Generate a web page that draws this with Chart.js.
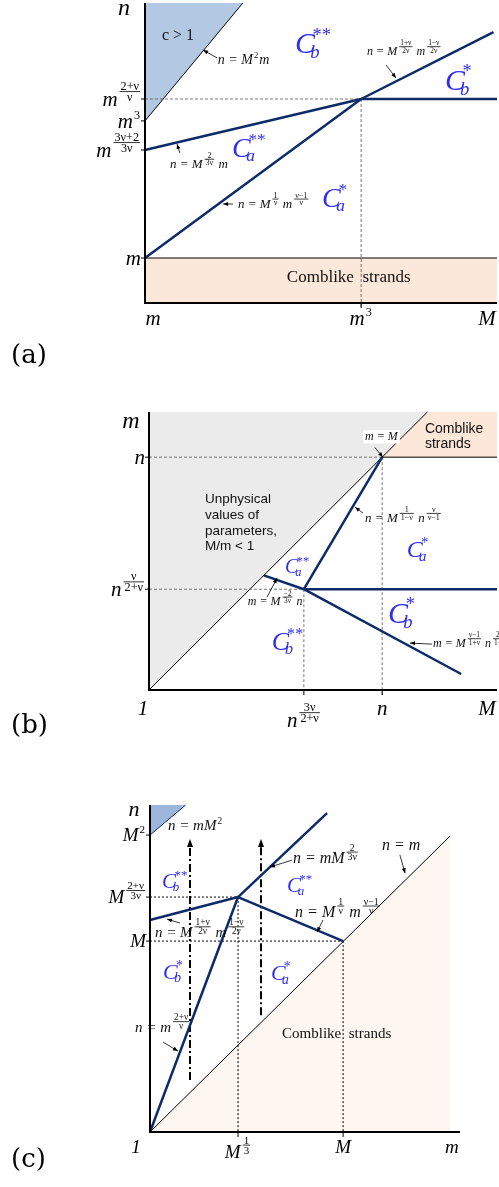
<!DOCTYPE html>
<html>
<head>
<meta charset="utf-8">
<script src="https://cdn.jsdelivr.net/npm/chart.js@4.4.1/dist/chart.umd.min.js"></script>
<style>
  body { margin: 0; background: #fff; width: 499px; height: 1187px; position: relative; overflow: hidden; }
  canvas { position: absolute; left: 0; }
</style>
</head>
<body>
<canvas id="panelA" width="499" height="370" style="top:0"></canvas>
<canvas id="panelB" width="499" height="380" style="top:370px"></canvas>
<canvas id="panelC" width="499" height="437" style="top:750px"></canvas>
<script>
// schematic units: every panel runs 0..100 on x, y in its own units

// ---- panel (a): n against M ----
const aXTicks = [0, 61.4, 100];
const aXTickLabels = ['m', 'm^{3}', 'M'];
const aYTicks = [15, 51, 60.7, 68];
const aYTickLabels = ['m', 'm^{3ν+2|3ν}', 'm^{3}', 'm^{2+ν|ν}'];
const aComblike = [[0, 15], [100, 15]];
const aCOver1 = [[0, 60.7], [27.8, 100]];        // n = M^2 m
const aLineAstar = [[0, 15], [61.4, 68]];
const aLineA2star = [[0, 51], [61.4, 68]];
const aLineBstar = [[61.4, 68], [100, 68]];
const aLineB2star = [[61.4, 68], [99, 90.3]];
const aGuideH = [[0, 68], [61.4, 68]];
const aGuideV = [[61.4, 68], [61.4, -1.7]];

// ---- panel (b): m against M ----
const bXTicks = [0, 44.5, 67, 100];
const bXTickLabels = ['1', 'n^{3ν|2+ν}', 'n', 'M'];
const bYTicks = [67, 29];
const bYTickLabels = ['n', 'n^{ν|2+ν}'];
const bUnphysical = [[0, 0], [80, 80]];           // m = M
const bComblike = [[67, 67], [80, 80], [100, 80]];
const bComblikeEdge = [[67, 67], [100, 67]];
const bLineAstar = [[67, 67], [44.5, 29]];
const bLineBstar = [[44.5, 29], [100, 29]];
const bLineA2star = [[44.5, 29], [33, 33]];
const bLineB2star = [[44.5, 29], [89.7, 4.6]];
const bGuideH1 = [[0, 67], [67, 67]];
const bGuideV1 = [[67, 67], [67, -1.5]];
const bGuideH2 = [[0, 29], [44.5, 29]];
const bGuideV2 = [[44.5, 29], [44.5, 0]];

// ---- panel (c): n against m ----
const cXTicks = [0, 28.4, 62.3, 97.4];
const cXTickLabels = ['1', 'M^{1|3}', 'M', 'm'];
const cYTicks = [95.8, 75.8, 61.6];
const cYTickLabels = ['M^{2}', 'M^{2+ν|3ν}', 'M'];
const cCOver1 = [[0, 95.8], [11.5, 105.5]];       // n = m M^2
const cDiagonal = [[0, 0], [96.8, 95.5]];         // n = m
const cLineB2star = [[0, 68.4], [28.4, 75.8]];
const cLineA2star = [[28.4, 75.8], [57.1, 102.9]];
const cLineAstar = [[28.4, 75.8], [62.3, 61.6]];
const cLineBstar = [[0, 0], [28.4, 75.8]];
const cGuideH1 = [[0, 75.8], [28.4, 75.8]];
const cGuideV1 = [[28.4, 75.8], [28.4, 0]];
const cGuideH2 = [[0, 61.6], [62.3, 61.6]];
const cGuideV2 = [[62.3, 61.6], [62.3, 0]];
const cPathLeft = [[12.9, 16.8], [12.9, 93.2]];
const cPathRight = [[35.8, 37.7], [35.8, 93.2]];

const NAVY = '#0c2b68';
const CBLUE = '#2e2ef2';
const SERIF = '"Liberation Serif", serif';

const pts = arr => arr.map(([x, y]) => ({ x, y }));

function line(arr, color, width, dash, order) {
  return {
    data: pts(arr), borderColor: color, borderWidth: width, borderDash: dash || [],
    pointRadius: 0, fill: false, clip: false, tension: 0, order: order || 1
  };
}
function area(arr, fillTo, bg, edge) {
  return {
    data: pts(arr), borderColor: edge || 'rgba(0,0,0,0)', borderWidth: edge ? 1 : 0,
    pointRadius: 0, fill: fillTo, backgroundColor: bg, clip: false, tension: 0, order: 3
  };
}

// small math text: ^{x} superscript, ^{a|b} fraction exponent
function mathRuns(str) {
  const out = [], re = /\^\{([^}]*)\}|([^^]+)/g;
  let m;
  while ((m = re.exec(str))) {
    if (m[1] !== undefined) out.push(m[1].includes('|') ? { frac: m[1].split('|') } : { sup: m[1] });
    else out.push({ text: m[2] });
  }
  return out;
}
function drawMath(ctx, str, x, y, size, align, ratio) {
  const runs = mathRuns(str);
  const small = size * (ratio || 0.58);
  const main = `italic ${size}px ${SERIF}`;
  const sm = `${small}px ${SERIF}`;
  const pass = (draw, x0) => {
    let cx = x0;
    for (const r of runs) {
      if (r.text !== undefined) {
        ctx.font = main;
        if (draw) ctx.fillText(r.text, cx, y);
        cx += ctx.measureText(r.text).width;
      } else if (r.sup !== undefined) {
        ctx.font = sm;
        if (draw) ctx.fillText(r.sup, cx + 1, y - size * 0.42);
        cx += ctx.measureText(r.sup).width + 2;
      } else {
        ctx.font = sm;
        const w0 = ctx.measureText(r.frac[0]).width, w1 = ctx.measureText(r.frac[1]).width;
        const w = Math.max(w0, w1) + 2;
        const mid = y - size * 0.68;
        if (draw) {
          const c = cx + 2 + w / 2;
          ctx.fillText(r.frac[0], c - w0 / 2, mid - 1.5);
          ctx.fillText(r.frac[1], c - w1 / 2, mid + small * 0.78);
          ctx.fillRect(cx + 2, mid - 0.4, w, 0.8);
        }
        cx += w + 3;
      }
    }
    return cx - x0;
  };
  ctx.textAlign = 'left';
  const w = pass(false, x);
  const x0 = align === 'right' ? x - w : align === 'center' ? x - w / 2 : x;
  pass(true, x0);
}
function drawC(ctx, x, y, size, sub, sup) {
  ctx.fillStyle = CBLUE;
  ctx.textAlign = 'left';
  ctx.font = `italic ${size}px ${SERIF}`;
  ctx.fillText('C', x, y);
  const w = ctx.measureText('C').width;
  ctx.font = `italic ${size * 0.62}px ${SERIF}`;
  ctx.fillText(sub, x + w - size * 0.16, y + size * 0.16);
  ctx.font = `${size * 0.62}px ${SERIF}`;
  ctx.fillText(sup, x + w - size * 0.08, y - size * 0.42);
}
function drawArrow(ctx, x1, y1, x2, y2) {
  const ang = Math.atan2(y2 - y1, x2 - x1);
  ctx.strokeStyle = '#000';
  ctx.lineWidth = 0.8;
  ctx.beginPath(); ctx.moveTo(x1, y1); ctx.lineTo(x2, y2); ctx.stroke();
  ctx.fillStyle = '#000';
  ctx.beginPath();
  ctx.moveTo(x2, y2);
  ctx.lineTo(x2 - 5 * Math.cos(ang) + 2 * Math.sin(ang), y2 - 5 * Math.sin(ang) - 2 * Math.cos(ang));
  ctx.lineTo(x2 - 5 * Math.cos(ang) - 2 * Math.sin(ang), y2 - 5 * Math.sin(ang) + 2 * Math.cos(ang));
  ctx.closePath(); ctx.fill();
}

function diagramPlugin(cfg) {
  return {
    id: 'diagram',
    afterDatasetsDraw(chart) {
      const ctx = chart.ctx, a = chart.chartArea;
      const X = v => chart.scales.x.getPixelForValue(v);
      const Y = v => chart.scales.y.getPixelForValue(v);
      ctx.save();
      ctx.textBaseline = 'alphabetic';
      // axes
      ctx.strokeStyle = '#000'; ctx.lineWidth = 2;
      ctx.beginPath(); ctx.moveTo(a.left, a.top); ctx.lineTo(a.left, a.bottom); ctx.lineTo(a.right, a.bottom); ctx.stroke();
      ctx.lineWidth = 1;
      // y ticks and labels
      ctx.fillStyle = '#000';
      cfg.yTicks.forEach((v, i) => {
        const py = Y(v);
        ctx.beginPath(); ctx.moveTo(a.left - 4, py); ctx.lineTo(a.left, py); ctx.stroke();
        drawMath(ctx, cfg.yLabels[i], a.left - 4, py + cfg.tickSize * 0.33, cfg.tickSize, 'right');
      });
      // x ticks and labels
      cfg.xTicks.forEach((v, i) => {
        const px = X(v);
        const last = i === cfg.xTicks.length - 1;
        if (i > 0 && !last) { ctx.beginPath(); ctx.moveTo(px, a.bottom); ctx.lineTo(px, a.bottom + 5); ctx.stroke(); }
        const lab = cfg.xLabels[i];
        const dx = i === 0 ? cfg.xFirstDx : last ? cfg.xLastDx : 0;
        const dy = lab.includes('|') ? cfg.fracDrop : 0;
        drawMath(ctx, lab, px + dx, a.bottom + cfg.xLabelDy + dy, cfg.tickSize, 'center');
      });
      // axis title
      drawMath(ctx, cfg.yTitle.s, X(cfg.yTitle.x), Y(cfg.yTitle.y), cfg.titleSize, 'center');
      // path arrowheads
      (cfg.heads || []).forEach(([hx, hy]) => {
        const px = X(hx), py = Y(hy);
        ctx.beginPath(); ctx.moveTo(px, py - 4); ctx.lineTo(px - 3, py + 4); ctx.lineTo(px + 3, py + 4); ctx.closePath(); ctx.fill();
      });
      // annotation arrows
      cfg.arrows.forEach(([x1, y1, x2, y2]) => drawArrow(ctx, X(x1), Y(y1), X(x2), Y(y2)));
      // annotation texts
      cfg.texts.forEach(t => {
        const px = X(t.x), py = Y(t.y);
        if (t.bg) {
          ctx.font = `italic ${t.size}px ${SERIF}`;
          const w = ctx.measureText(t.s).width;
          ctx.fillStyle = t.bg; ctx.fillRect(px - 2, py - t.size * 0.85, w + 4, t.size * 1.1);
        }
        ctx.fillStyle = '#111';
        if (t.plain || t.sans) {
          ctx.textAlign = 'left';
          ctx.font = `${t.size}px ${t.sans ? '"Liberation Sans", Arial, sans-serif' : SERIF}`;
          ctx.fillText(t.s, px, py);
        } else {
          drawMath(ctx, t.s, px, py, t.size, 'left', 0.62);
        }
      });
      cfg.cs.forEach(c => drawC(ctx, X(c.x), Y(c.y), c.size, c.sub, c.sup));
      // panel letter
      ctx.fillStyle = '#000';
      ctx.textAlign = 'left';
      ctx.font = '26px "DejaVu Serif", serif';
      ctx.fillText(cfg.panel, 11, cfg.panelY);
      ctx.restore();
    }
  };
}

function makeChart(id, datasets, yMax, padding, cfg) {
  return new Chart(document.getElementById(id), {
    type: 'line',
    data: { datasets },
    options: {
      responsive: false,
      animation: false,
      events: [],
      layout: { padding },
      plugins: { legend: { display: false }, tooltip: { enabled: false } },
      scales: {
        x: { type: 'linear', min: 0, max: 100, display: false },
        y: { type: 'linear', min: 0, max: yMax, display: false }
      }
    },
    plugins: [diagramPlugin(cfg)]
  });
}

const dashed = [3, 2];
const dotted = [2, 2];

makeChart('panelA', [
  area(aComblike, 'origin', '#fce8da', '#000'),
  area(aCOver1, 'end', '#b3c8e2', '#000'),
  line(aGuideH, '#555', 0.8, dashed, 2),
  line(aGuideV, '#555', 0.8, dashed, 2),
  line(aLineAstar, NAVY, 2.5),
  line(aLineA2star, NAVY, 2.5),
  line(aLineBstar, NAVY, 2.5),
  line(aLineB2star, NAVY, 2.5)
], 100, { left: 145, top: 3, right: 2, bottom: 67 }, {
  tickSize: 21, titleSize: 24, xLabelDy: 22, xFirstDx: 8, xLastDx: -10, fracDrop: 0,
  xTicks: aXTicks, xLabels: aXTickLabels, yTicks: aYTicks, yLabels: aYTickLabels,
  yTitle: { s: 'n', x: -6, y: 96 },
  panel: '(a)', panelY: 363,
  texts: [
    { s: 'c > 1', x: 4.8, y: 87.7, size: 16, plain: true },
    { s: 'n = M^{2}m', x: 20.7, y: 79.7, size: 14 },
    { s: 'n = M^{1+ν|2ν} m^{1−ν|2ν}', x: 63.1, y: 82.7, size: 12 },
    { s: 'n = M^{2|3ν} m', x: 7.1, y: 45, size: 13 },
    { s: 'n = M^{1|ν} m^{ν−1|ν}', x: 26.4, y: 31.7, size: 13 },
    { s: 'Comblike  strands', x: 40.3, y: 7, size: 17, plain: true }
  ],
  cs: [
    { sub: 'b', sup: '**', x: 42.6, y: 83.3, size: 30 },
    { sub: 'b', sup: '*', x: 85.2, y: 71, size: 30 },
    { sub: 'a', sup: '**', x: 24.7, y: 48.7, size: 28 },
    { sub: 'a', sup: '*', x: 50.3, y: 32, size: 28 }
  ],
  arrows: [[20.5, 81.7, 16.5, 84.3], [68.5, 79.3, 71.3, 75], [9.9, 50, 9.1, 53], [25, 33, 22.2, 33]]
});

makeChart('panelB', [
  area(bUnphysical, 'end', '#ebebeb', '#000'),
  area(bComblike, { value: 67 }, '#fde7d8'),
  line(bComblikeEdge, '#000', 1, [], 2),
  line(bGuideH1, '#555', 0.8, dashed, 2),
  line(bGuideV1, '#555', 0.8, dashed, 2),
  line(bGuideH2, '#555', 0.8, dashed, 2),
  line(bGuideV2, '#555', 0.8, dashed, 2),
  line(bLineAstar, NAVY, 2.5),
  line(bLineBstar, NAVY, 2.5),
  line(bLineA2star, NAVY, 2.5),
  line(bLineB2star, NAVY, 2.5)
], 80, { left: 149, top: 42, right: 2, bottom: 60 }, {
  tickSize: 21, titleSize: 24, xLabelDy: 25, xFirstDx: -6, xLastDx: -10, fracDrop: 12,
  xTicks: bXTicks, xLabels: bXTickLabels, yTicks: bYTicks, yLabels: bYTickLabels,
  yTitle: { s: 'm', x: -5.2, y: 75.3 },
  panel: '(b)', panelY: 363,
  texts: [
    { s: 'Comblike', x: 79.3, y: 73.9, size: 14, sans: true },
    { s: 'strands', x: 79.3, y: 69.5, size: 14, sans: true },
    { s: 'm = M', x: 62.1, y: 71.8, size: 12, bg: '#fff' },
    { s: 'Unphysical', x: 16.1, y: 53.7, size: 13.5, sans: true },
    { s: 'values of', x: 16.1, y: 49.1, size: 13.5, sans: true },
    { s: 'parameters,', x: 16.1, y: 44.5, size: 13.5, sans: true },
    { s: 'M/m < 1', x: 16.1, y: 40.2, size: 13.5, sans: true },
    { s: 'n = M^{1|1−ν} n^{ν|ν−1}', x: 62.1, y: 48.3, size: 13 },
    { s: 'm = M^{−2|3ν} n', x: 28.4, y: 24.4, size: 12 },
    { s: 'm = M^{ν−1|1+ν} n^{2ν|1−ν}', x: 81.6, y: 12.4, size: 12 }
  ],
  cs: [
    { sub: 'a', sup: '*', x: 74.1, y: 38.2, size: 24 },
    { sub: 'a', sup: '**', x: 39.1, y: 33.6, size: 20 },
    { sub: 'b', sup: '*', x: 68.7, y: 19.3, size: 30 },
    { sub: 'b', sup: '**', x: 35.3, y: 11.5, size: 26 }
  ],
  arrows: [[64.9, 69.8, 67.2, 67], [61.5, 50.9, 59.2, 52.6], [33.9, 26.7, 36.8, 32.2], [81.3, 13.2, 75, 13.5]]
});

makeChart('panelC', [
  area(cCOver1, 'end', '#9db7dc', NAVY),
  area(cDiagonal, 'origin', '#fdf6f1', '#000'),
  line(cGuideH1, '#000', 1, dotted, 2),
  line(cGuideV1, '#000', 1, dotted, 2),
  line(cGuideH2, '#000', 1, dotted, 2),
  line(cGuideV2, '#000', 1, dotted, 2),
  line(cPathLeft, '#000', 2, [8, 3, 2, 3], 2),
  line(cPathRight, '#000', 2, [8, 3, 2, 3], 2),
  line(cLineB2star, NAVY, 2.5),
  line(cLineA2star, NAVY, 2.5),
  line(cLineAstar, NAVY, 2.5),
  line(cLineBstar, NAVY, 2.5)
], 105.5, { left: 150, top: 55, right: 39, bottom: 55 }, {
  tickSize: 19, titleSize: 22, xLabelDy: 21, xFirstDx: -14, xLastDx: 0, fracDrop: 5,
  xTicks: cXTicks, xLabels: cXTickLabels, yTicks: cYTicks, yLabels: cYTickLabels,
  yTitle: { s: 'n', x: -5.2, y: 101.9 },
  heads: [cPathLeft[1], cPathRight[1]],
  panel: '(c)', panelY: 417,
  texts: [
    { s: 'n = mM^{2}', x: 5.8, y: 97.4, size: 15 },
    { s: 'n = mM^{2|3ν}', x: 46.1, y: 86.8, size: 16 },
    { s: 'n = m', x: 74.8, y: 91, size: 16 },
    { s: 'n = M^{1|ν} m^{ν−1|ν}', x: 46.8, y: 69.4, size: 16 },
    { s: 'n = M^{1+ν|2ν} m^{1−ν|2ν}', x: 1.6, y: 62.9, size: 15 },
    { s: 'n = m^{2+ν|ν}', x: -4.8, y: 32.3, size: 15 },
    { s: 'Comblike  strands', x: 42.6, y: 30.3, size: 15, plain: true }
  ],
  cs: [
    { sub: 'b', sup: '**', x: 3.9, y: 78.7, size: 21 },
    { sub: 'a', sup: '**', x: 44.2, y: 77.4, size: 21 },
    { sub: 'b', sup: '*', x: 4.2, y: 49.4, size: 22 },
    { sub: 'a', sup: '*', x: 39, y: 49, size: 22 }
  ],
  arrows: [[45.8, 87.7, 38.7, 85.5], [80.6, 89.4, 82.3, 83.5], [55.8, 68.4, 53.9, 64.5], [9.7, 67.4, 5.5, 68.7], [4.2, 29, 9, 26.1]]
});
</script>
</body>
</html>
